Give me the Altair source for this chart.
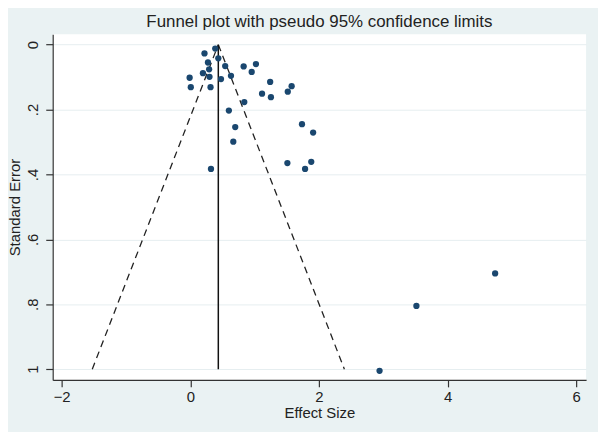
import altair as alt
import pandas as pd

# Study effect sizes and standard errors
effect = [0.388, 0.221, 0.436, 0.275, 0.543, 0.830, 1.021, 0.293, 0.955, 0.197,
          0.299, 0.633, 0.478, -0.010, 0.008, 0.315, 1.242, 1.576, 1.516, 1.116,
          1.254, 0.840, 0.600, 1.737, 1.910, 0.699, 0.669, 0.322, 1.510, 1.881,
          1.785, 4.740, 3.516, 2.943]
std_err = [0.012, 0.027, 0.042, 0.055, 0.066, 0.067, 0.060, 0.076, 0.084, 0.088,
           0.099, 0.096, 0.106, 0.102, 0.131, 0.131, 0.115, 0.128, 0.145, 0.151,
           0.162, 0.177, 0.203, 0.245, 0.271, 0.254, 0.299, 0.383, 0.365, 0.361,
           0.383, 0.705, 0.805, 1.005]

pooled = 0.436
se_max = 1.0
z = 1.96

x_ticks = [-2, 0, 2, 4, 6]
y_ticks = [0, 0.2, 0.4, 0.6, 0.8, 1.0]

pts = pd.DataFrame({"es": effect, "se": std_err})
funnel_left = pd.DataFrame({"es": [pooled - z * se_max, pooled], "se": [se_max, 0.0]})
funnel_right = pd.DataFrame({"es": [pooled, pooled + z * se_max], "se": [0.0, se_max]})
vline = pd.DataFrame({"es": [pooled, pooled], "se": [0.0, se_max]})

FONT = "Liberation Sans"
TXT = "#222222"
xs = alt.Scale(domain=[-2.139, 6.154], nice=False, zero=False)
ys = alt.Scale(domain=[-0.032, 1.033], nice=False, zero=False, reverse=True)

xenc = alt.X("es:Q", scale=xs, axis=alt.Axis(
    values=x_ticks, title="Effect Size", grid=False, format="d",
    labelFontSize=15, titleFontSize=15, tickSize=7, labelPadding=3,
    titlePadding=1, titleFontWeight="normal"))
yenc = alt.Y("se:Q", scale=ys, axis=alt.Axis(
    values=y_ticks, title="Standard Error", grid=True,
    gridColor="#e6eef0", gridWidth=1,
    labelExpr="datum.value == 0 ? '0' : datum.value == 1 ? '1' : '.' + round(datum.value * 10)",
    labelAngle=270, labelAlign="center", labelBaseline="bottom",
    labelFontSize=15, titleFontSize=15, tickSize=7, labelPadding=5,
    titlePadding=3, titleFontWeight="normal"))

points = alt.Chart(pts).mark_circle(size=40, color="#1a476f", opacity=1).encode(x=xenc, y=yenc)

dash_style = dict(color=TXT, strokeWidth=1.3, strokeDash=[7, 5])
funnel_l = alt.Chart(funnel_left).mark_line(**dash_style).encode(
    x=alt.X("es:Q", scale=xs), y=alt.Y("se:Q", scale=ys))
funnel_r = alt.Chart(funnel_right).mark_line(**dash_style).encode(
    x=alt.X("es:Q", scale=xs), y=alt.Y("se:Q", scale=ys))

mid = alt.Chart(vline).mark_line(color="#111111", strokeWidth=1.5).encode(
    x=alt.X("es:Q", scale=xs), y=alt.Y("se:Q", scale=ys))

chart = alt.layer(funnel_l, funnel_r, mid, points).properties(
    width=537, height=348,
    title=alt.TitleParams("Funnel plot with pseudo 95% confidence limits",
                          fontSize=17, font=FONT, fontWeight="normal",
                          color=TXT, anchor="middle", offset=3),
    autosize=alt.AutoSizeParams(type="none"),
    padding={"left": 45, "top": 25, "right": 12, "bottom": 51},
    background="#eaf2f3",
).configure_view(
    fill="white", stroke=None
).configure_axis(
    labelFont=FONT, titleFont=FONT, labelColor=TXT, titleColor=TXT,
    domainColor="#333333", tickColor="#333333", domainWidth=1.2, tickWidth=1.2
)

chart.save("out.html", embed_options={"renderer": "svg", "actions": False})
